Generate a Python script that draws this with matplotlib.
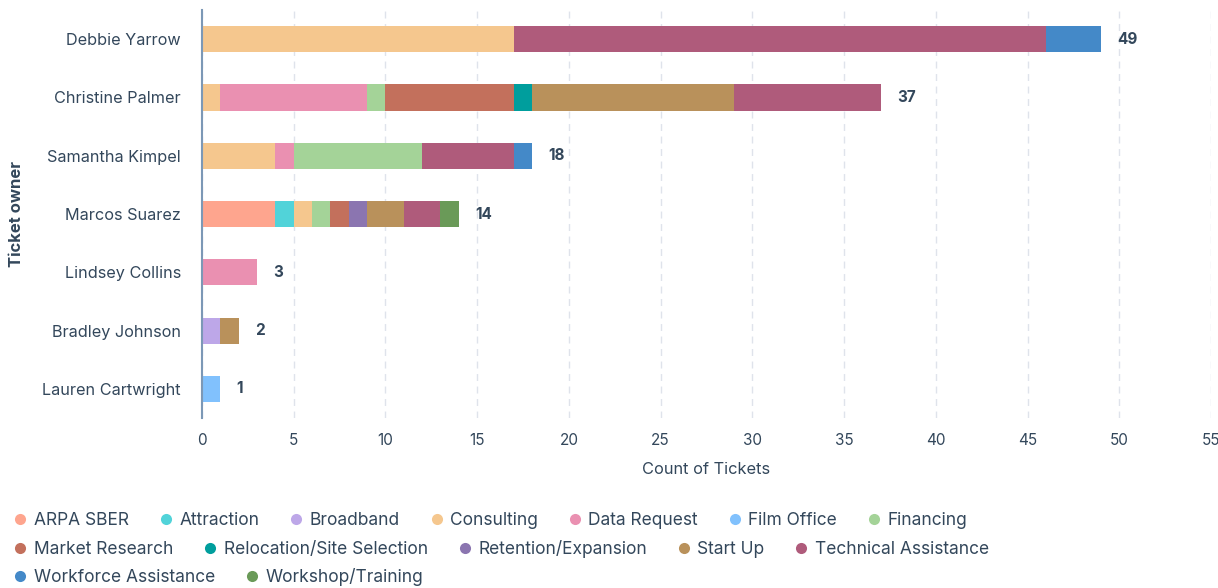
import matplotlib as mpl
import matplotlib.pyplot as plt
from matplotlib.lines import Line2D
import numpy as np

TEXT = "#33475B"
GRID = "#DFE3EB"
SPINE = "#7C98B6"

owners = [
    "Debbie Yarrow",
    "Christine Palmer",
    "Samantha Kimpel",
    "Marcos Suarez",
    "Lindsey Collins",
    "Bradley Johnson",
    "Lauren Cartwright",
]

# ticket counts per category, in the same order as owners
arpa_sber = [0, 0, 0, 4, 0, 0, 0]
attraction = [0, 0, 0, 1, 0, 0, 0]
broadband = [0, 0, 0, 0, 0, 1, 0]
consulting = [17, 1, 4, 1, 0, 0, 0]
data_request = [0, 8, 1, 0, 3, 0, 0]
film_office = [0, 0, 0, 0, 0, 0, 1]
financing = [0, 1, 7, 1, 0, 0, 0]
market_research = [0, 7, 0, 1, 0, 0, 0]
relocation = [0, 1, 0, 0, 0, 0, 0]
retention = [0, 0, 0, 1, 0, 0, 0]
start_up = [0, 11, 0, 2, 0, 1, 0]
technical_assistance = [29, 8, 5, 2, 0, 0, 0]
workforce = [3, 0, 1, 0, 0, 0, 0]
workshop = [0, 0, 0, 1, 0, 0, 0]

series = [
    ("ARPA SBER", arpa_sber, "#FEA58E"),
    ("Attraction", attraction, "#51D3D9"),
    ("Broadband", broadband, "#BDA7E8"),
    ("Consulting", consulting, "#F5C78E"),
    ("Data Request", data_request, "#EA90B1"),
    ("Film Office", film_office, "#81C1FD"),
    ("Financing", financing, "#A4D398"),
    ("Market Research", market_research, "#C3705C"),
    ("Relocation/Site Selection", relocation, "#009E9D"),
    ("Retention/Expansion", retention, "#8B75B0"),
    ("Start Up", start_up, "#B9915B"),
    ("Technical Assistance", technical_assistance, "#AF5B7B"),
    ("Workforce Assistance", workforce, "#4489C8"),
    ("Workshop/Training", workshop, "#6A9A58"),
]

legend_rows = [
    ["ARPA SBER", "Attraction", "Broadband", "Consulting", "Data Request", "Film Office", "Financing"],
    ["Market Research", "Relocation/Site Selection", "Retention/Expansion", "Start Up", "Technical Assistance"],
    ["Workforce Assistance", "Workshop/Training"],
]

mpl.rcParams.update({
    "font.family": ["Inter", "DejaVu Sans"],
    "font.size": 11,
    "text.color": TEXT,
    "axes.labelcolor": TEXT,
    "xtick.color": TEXT,
    "ytick.color": TEXT,
})

fig = plt.figure(figsize=(12.18, 5.88), dpi=100)
ax = fig.add_axes([0.1658, 0.289, 0.8285, 0.694])

y = np.arange(len(owners))
left = np.zeros(len(owners))
for name, vals, color in series:
    vals = np.array(vals, dtype=float)
    ax.barh(y, vals, left=left, height=0.45, color=color, linewidth=0, zorder=3)
    left += vals

for yi, tot in zip(y, left):
    ax.text(tot + 0.9, yi, f"{int(tot)}", va="center", ha="left",
            fontsize=11, fontweight="bold", color=TEXT)

ax.set_xlim(0, 55)
ax.set_ylim(len(owners) - 0.5, -0.5)
ax.set_xticks(np.arange(0, 56, 5))
ax.set_yticks(y)
ax.set_yticklabels(owners, fontsize=11.7)
ax.tick_params(axis="y", length=0, pad=15)
ax.tick_params(axis="x", length=0, pad=11, labelsize=11)
ax.set_xlabel("Count of Tickets", fontsize=11.8, labelpad=10)
ax.set_ylabel("Ticket owner", fontsize=12, fontweight="bold", labelpad=13)

ax.grid(True, axis="x", color=GRID, linestyle=(0, (5, 4)), linewidth=1, zorder=0)
ax.grid(False, axis="y")
for side in ("top", "right", "bottom"):
    ax.spines[side].set_visible(False)
ax.spines["left"].set_color(SPINE)
ax.spines["left"].set_linewidth(1.5)
ax.spines["left"].set_zorder(4)

colors = {name: color for name, _, color in series}
row_y = [0.114, 0.066, 0.018]
for row, ry in zip(legend_rows, row_y):
    handles = [Line2D([], [], marker="o", linestyle="none", markersize=8,
                      markerfacecolor=colors[n], markeredgewidth=0) for n in row]
    leg = fig.legend(handles, row, loc="center left", bbox_to_anchor=(0.011, ry),
                     ncol=len(row), frameon=False, fontsize=12.5, handlelength=0.8,
                     handletextpad=0.38, columnspacing=1.72, borderpad=0,
                     borderaxespad=0, labelcolor=TEXT)

fig.savefig("out.png", dpi=100)
